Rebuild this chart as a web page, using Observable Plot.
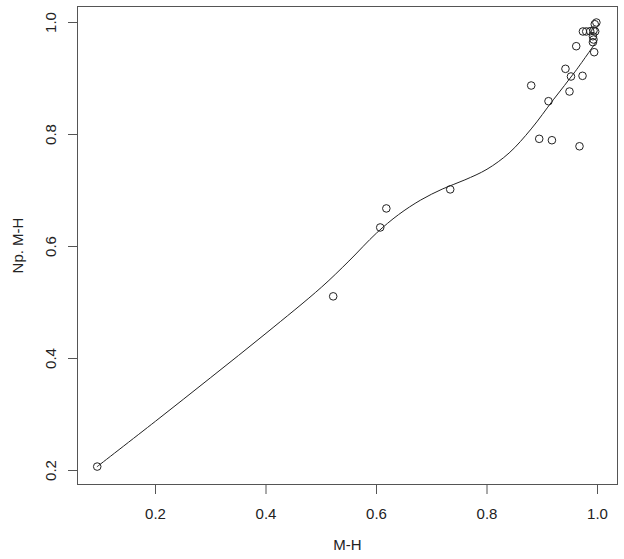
<!DOCTYPE html>
<html>
<head>
<meta charset="utf-8">
<script src="https://cdn.jsdelivr.net/npm/d3@7"></script>
<script src="https://cdn.jsdelivr.net/npm/@observablehq/plot@0.6"></script>
<style>
  html, body { margin: 0; padding: 0; background: #fff; }
</style>
</head>
<body>
<div id="chart"></div>
<script>
// Scatter points (M-H vs Np. M-H)
const pointX = [0.0945, 0.5216, 0.6067, 0.6178, 0.7334, 0.8800, 0.8945, 0.9113, 0.9175, 0.9420,
                0.9493, 0.9520, 0.9615, 0.9674, 0.9729, 0.9736, 0.9796, 0.9868, 0.9917, 0.9917,
                0.9928, 0.9928, 0.9940, 0.9950, 0.9958, 0.9980];
const pointY = [0.207, 0.511, 0.634, 0.668, 0.702, 0.8875, 0.7923, 0.8595, 0.7898, 0.9173,
                0.8768, 0.9036, 0.9577, 0.779, 0.9048, 0.984, 0.984, 0.9845, 0.9755, 0.9648,
                0.9857, 0.9696, 0.947, 0.997, 0.984, 1.0];

// Smoothed curve
const curveX = [0.0945, 0.2, 0.3, 0.4, 0.5, 0.55, 0.6, 0.64, 0.68, 0.72,
                0.76, 0.80, 0.84, 0.88, 0.92, 0.96, 0.998];
const curveY = [0.207, 0.288, 0.366, 0.445, 0.527, 0.574, 0.624, 0.657, 0.683, 0.703,
                0.719, 0.738, 0.767, 0.810, 0.862, 0.913, 0.966];

const xTicks = [0.2, 0.4, 0.6, 0.8, 1.0];
const yTicks = [0.2, 0.4, 0.6, 0.8, 1.0];

const points = pointX.map((x, i) => ({x, y: pointY[i]}));
const curve = curveX.map((x, i) => ({x, y: curveY[i]}));

const chart = Plot.plot({
  width: 624,
  height: 559,
  marginLeft: 77,
  marginRight: 7,
  marginTop: 6,
  marginBottom: 75,
  style: {fontFamily: "'Liberation Sans', Arial, sans-serif", fontSize: "15px", color: "#222", background: "#fff"},
  x: {domain: [0.0588, 1.0362]},
  y: {domain: [0.175, 1.0286]},
  marks: [
    Plot.frame({stroke: "#555"}),
    Plot.axisX({ticks: xTicks, tickSize: 10, tickPadding: 14, stroke: "#555",
      tickFormat: d => d.toFixed(1), label: "M-H", labelAnchor: "center", labelArrow: "none", labelOffset: 65}),
    Plot.axisY({ticks: yTicks, tickSize: 9, tickPadding: 13, tickRotate: -90, stroke: "#555",
      tickFormat: d => d.toFixed(1), label: "Np. M-H", labelAnchor: "center", labelArrow: "none", labelOffset: 65}),
    Plot.line(curve, {x: "x", y: "y", curve: "catmull-rom", stroke: "#222", strokeWidth: 1}),
    Plot.dot(points, {x: "x", y: "y", r: 3.8, stroke: "#222", strokeWidth: 1})
  ]
});
document.getElementById("chart").appendChild(chart);
</script>
</body>
</html>
